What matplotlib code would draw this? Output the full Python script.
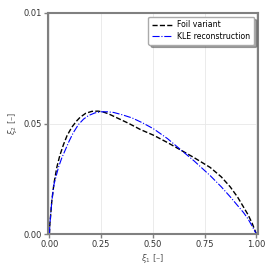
import matplotlib
matplotlib.use("Agg")
import matplotlib.pyplot as plt

# Foil variant (black dashed)
foil_x = [0, 0.002, 0.005, 0.0116, 0.022, 0.036, 0.050, 0.068, 0.085, 0.108, 0.13, 0.148,
          0.175, 0.205, 0.235, 0.26, 0.285, 0.33, 0.382, 0.439, 0.503, 0.57, 0.64, 0.70,
          0.777, 0.83, 0.874, 0.91, 0.938, 0.96, 0.98, 1.0]
foil_y = [0, 0.0045, 0.0076, 0.0151, 0.0230, 0.0303, 0.0355, 0.0405, 0.0445, 0.0483, 0.0510,
          0.0528, 0.0546, 0.0555, 0.0556, 0.0552, 0.0544, 0.0524, 0.0501, 0.0473, 0.0447,
          0.0414, 0.0377, 0.0345, 0.0301, 0.0259, 0.0213, 0.0166, 0.0122, 0.0087, 0.0048, 0]

# KLE reconstruction (blue dash-dot)
kle_x = [0, 0.002, 0.005, 0.0116, 0.022, 0.044, 0.060, 0.076, 0.095, 0.115, 0.140, 0.165,
         0.189, 0.22, 0.25, 0.28, 0.31, 0.35, 0.40, 0.45, 0.503, 0.57, 0.64, 0.70, 0.777,
         0.83, 0.874, 0.91, 0.938, 0.96, 0.98, 1.0]
kle_y = [0, 0.0045, 0.0076, 0.0151, 0.0225, 0.0303, 0.0345, 0.0379, 0.0420, 0.0458, 0.0495,
         0.0520, 0.0536, 0.0548, 0.0553, 0.0553, 0.0550, 0.0540, 0.0525, 0.0503, 0.0476,
         0.0432, 0.0377, 0.0330, 0.0264, 0.0214, 0.0168, 0.0128, 0.0097, 0.0068, 0.0035, 0]

x_ticks = [0, 0.25, 0.5, 0.75, 1.0]
x_ticklabels = ["0.00", "0.25", "0.50", "0.75", "1.00"]
y_ticks = [0, 0.05, 0.1]
y_ticklabels = ["0.00", "0.05", "0.01"]

fig = plt.figure(figsize=(2.66, 2.66), dpi=100)
ax = fig.add_axes([48/266, 1-234/266, 210/266, 221/266])

ax.plot(foil_x, foil_y, linestyle="--", color="black", lw=1.0, label="Foil variant")
ax.plot(kle_x, kle_y, linestyle="-.", color="blue", lw=0.8, label="KLE reconstruction")

ax.set_xlim(-0.007, 1.008)
ax.set_ylim(0, 0.1)
ax.set_xticks(x_ticks)
ax.set_xticklabels(x_ticklabels)
ax.set_yticks(y_ticks)
ax.set_yticklabels(y_ticklabels)

ax.grid(True, color="#e8e8e8", lw=0.6)
ax.set_axisbelow(True)
for s in ax.spines.values():
    s.set_color("#808080")
    s.set_linewidth(1.5)
ax.tick_params(colors="#808080", labelcolor="#333333", labelsize=6, length=3, width=1, pad=1.5)

ax.set_xlabel(r"$\xi_1$ [–]", fontsize=6, color="#555555", labelpad=2)
ax.set_ylabel(r"$\xi_2$ [–]", fontsize=6, color="#555555", labelpad=3)

leg = ax.legend(loc="upper right", fontsize=5.6, frameon=True, fancybox=True, shadow=True,
                handlelength=2.6, handletextpad=0.7, borderpad=0.45, labelspacing=0.35,
                borderaxespad=0.5)
leg.get_frame().set_edgecolor("#aaaaaa")

fig.savefig("out.png", dpi=100)
